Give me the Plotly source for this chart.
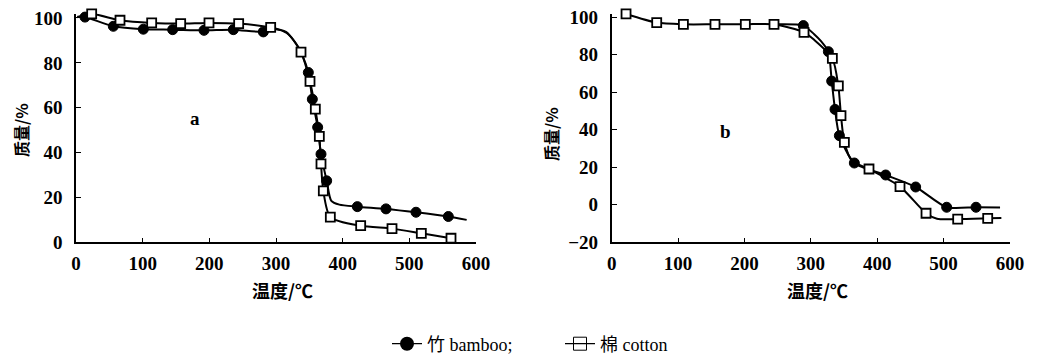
import plotly.graph_objects as go

# ---------------- data ----------------
# Panel a
a_bamboo_x = [13.5, 56, 101, 145, 192, 236, 281, 348.5, 354.5, 362.5, 367.5, 376, 422, 465, 510, 558.5]
a_bamboo_y = [100.4, 96.3, 95.0, 94.8, 94.5, 94.8, 93.8, 75.7, 63.8, 51.3, 39.3, 27.4, 15.9, 14.9, 13.4, 11.5]
a_bamboo_path_x = [2, 300, 316, 330, 340, 383, 395, 586]
a_bamboo_path_y = [100.5, 95.0, 93.3, 88.5, 83.0, 18.5, 16.8, 10.0]

a_cotton_x = [23.5, 66, 113.5, 157, 199.5, 244, 292, 337.5, 351, 359, 365, 367.5, 371, 381.5, 427, 474, 518, 562.5]
a_cotton_y = [101.8, 99.0, 97.8, 97.5, 97.8, 97.5, 95.8, 84.8, 71.7, 59.4, 47.2, 35.0, 22.9, 11.2, 7.4, 6.1, 4.0, 1.8]
a_cotton_path_x = [2, 315, 328]
a_cotton_path_y = [100.3, 93.8, 89.5]

# Panel b
b_bamboo_x = [288.7, 326.4, 331.4, 336.4, 343, 365.5, 412.7, 457.9, 504.6, 548.8]
b_bamboo_y = [95.6, 81.7, 66.0, 50.9, 36.9, 22.3, 15.9, 9.5, -1.3, -1.3]
b_bamboo_path_x = [244.5, 305, 316, 585]
b_bamboo_path_y = [96.3, 91.0, 87.0, -1.5]

b_cotton_x = [21.6, 67.8, 108, 155.6, 201.3, 244.5, 289.7, 332.4, 341.4, 345.4, 350.5, 387.6, 434.3, 473.5, 521.2, 566.4]
b_cotton_y = [101.8, 97.2, 96.3, 96.3, 96.3, 96.3, 92.0, 78.1, 63.4, 47.6, 33.3, 19.1, 9.7, -4.5, -7.6, -7.2]
b_cotton_path_x = [305, 362, 490, 587]
b_cotton_path_y = [88.0, 23.5, -7.4, -7.0]

x_ticks = [0, 100, 200, 300, 400, 500, 600]
a_y_ticks = [0, 20, 40, 60, 80, 100]
b_y_ticks = [-20, 0, 20, 40, 60, 80, 100]

x_title = "温度/℃"
y_title = "质量/%"
bamboo_name = "竹 bamboo;"
cotton_name = "棉 cotton"

# ---------------- figure ----------------
OFF = 8  # page body margin
W, H = 1039 - OFF, 357 - OFF


def px_x(p):
    return (p - OFF) / W


def px_y(p):
    return 1 - (p - OFF) / H


def merged(xs, ys, px_, py_):
    pts = sorted(zip(list(xs) + list(px_), list(ys) + list(py_)))
    return [p[0] for p in pts], [p[1] for p in pts]


fig = go.Figure()

line_style = dict(color="black", width=2, shape="spline", smoothing=0.7)
circle = dict(symbol="circle", size=10, color="black", line=dict(color="black", width=1))
square = dict(symbol="square", size=9, color="white", line=dict(color="black", width=1.8))

panels = [
    ("x", "y", a_bamboo_x, a_bamboo_y, a_bamboo_path_x, a_bamboo_path_y,
     a_cotton_x, a_cotton_y, a_cotton_path_x, a_cotton_path_y),
    ("x2", "y2", b_bamboo_x, b_bamboo_y, b_bamboo_path_x, b_bamboo_path_y,
     b_cotton_x, b_cotton_y, b_cotton_path_x, b_cotton_path_y),
]

for xa, ya, bx, by, bpx, bpy, cx, cy, cpx, cpy in panels:
    lx, ly = merged(bx, by, bpx, bpy)
    fig.add_trace(go.Scatter(x=lx, y=ly, mode="lines", line=line_style, xaxis=xa, yaxis=ya,
                             showlegend=False, hoverinfo="skip", cliponaxis=False))
    lx, ly = merged(cx, cy, cpx, cpy)
    fig.add_trace(go.Scatter(x=lx, y=ly, mode="lines", line=line_style, xaxis=xa, yaxis=ya,
                             showlegend=False, hoverinfo="skip", cliponaxis=False))
    fig.add_trace(go.Scatter(x=bx, y=by, mode="markers", marker=circle, xaxis=xa, yaxis=ya,
                             name=bamboo_name, showlegend=False, cliponaxis=False))
    fig.add_trace(go.Scatter(x=cx, y=cy, mode="markers", marker=square, xaxis=xa, yaxis=ya,
                             name=cotton_name, showlegend=False, cliponaxis=False))

# legend entries (line + marker symbol like "—●—")
fig.add_trace(go.Scatter(x=[None], y=[None], mode="lines+markers", name=bamboo_name,
                         line=dict(color="black", width=1.2),
                         marker=dict(symbol="circle", size=14, color="black")))
fig.add_trace(go.Scatter(x=[None], y=[None], mode="lines+markers", name=cotton_name,
                         line=dict(color="black", width=1.2),
                         marker=dict(symbol="square-open", size=13, color="black",
                                     line=dict(width=1))))

tick_font = dict(family="Liberation Serif", size=19, color="black", weight="bold")
axis_common = dict(showline=True, linecolor="black", linewidth=1.6, ticks="inside",
                   ticklen=5, tickwidth=1.4, tickcolor="black", showgrid=False,
                   zeroline=False, tickfont=tick_font, mirror=False, automargin=False,
                   ticklabeloverflow="allow")

fig.update_layout(
    width=W, height=H,
    autosize=False,
    margin=dict(l=0, r=0, t=0, b=0, pad=0, autoexpand=False),
    paper_bgcolor="white", plot_bgcolor="white",
    showlegend=True,
    legend=dict(orientation="h", x=px_x(560), y=px_y(344), xanchor="center",
                yanchor="middle", bgcolor="rgba(0,0,0,0)", entrywidth=128,
                entrywidthmode="pixels",
                font=dict(family="Liberation Serif, Noto Sans CJK SC", size=18,
                          color="black")),
    xaxis=dict(domain=[px_x(76), px_x(476)], range=[0, 600], tickvals=x_ticks,
               anchor="y", ticklabelstandoff=3, **axis_common),
    yaxis=dict(domain=[px_y(242.3), px_y(13.5)], range=[0, 102], tickvals=a_y_ticks,
               anchor="x", ticklabelstandoff=8, **axis_common),
    xaxis2=dict(domain=[px_x(611.7), px_x(1010)], range=[0, 600], tickvals=x_ticks,
                anchor="y2", ticklabelstandoff=3, **axis_common),
    yaxis2=dict(domain=[px_y(242.3), px_y(13.6)], range=[-20, 102], tickvals=b_y_ticks,
                anchor="x2", ticklabelstandoff=8, **axis_common),
)

title_font = dict(family="Noto Sans CJK SC", size=18, color="black", weight="bold")
ann = []
for xc in (282, 817.5):
    ann.append(dict(x=px_x(xc), y=px_y(290), xref="paper", yref="paper", text=x_title,
                    showarrow=False, font=title_font, xanchor="center", yanchor="middle"))
for xc, yc in ((21, 130), (551, 134)):
    ann.append(dict(x=px_x(xc), y=px_y(yc), xref="paper", yref="paper", text=y_title,
                    showarrow=False, font=dict(title_font, size=16), textangle=-90,
                    xanchor="center", yanchor="middle"))
ann.append(dict(x=178.5, y=55.4, xref="x", yref="y", text="a", showarrow=False,
                font=dict(family="Liberation Serif", size=19, color="black", weight="bold")))
ann.append(dict(x=170.8, y=39, xref="x2", yref="y2", text="b", showarrow=False,
                font=dict(family="Liberation Serif", size=19, color="black", weight="bold")))
fig.update_layout(annotations=ann)

fig.write_html("out.html")
